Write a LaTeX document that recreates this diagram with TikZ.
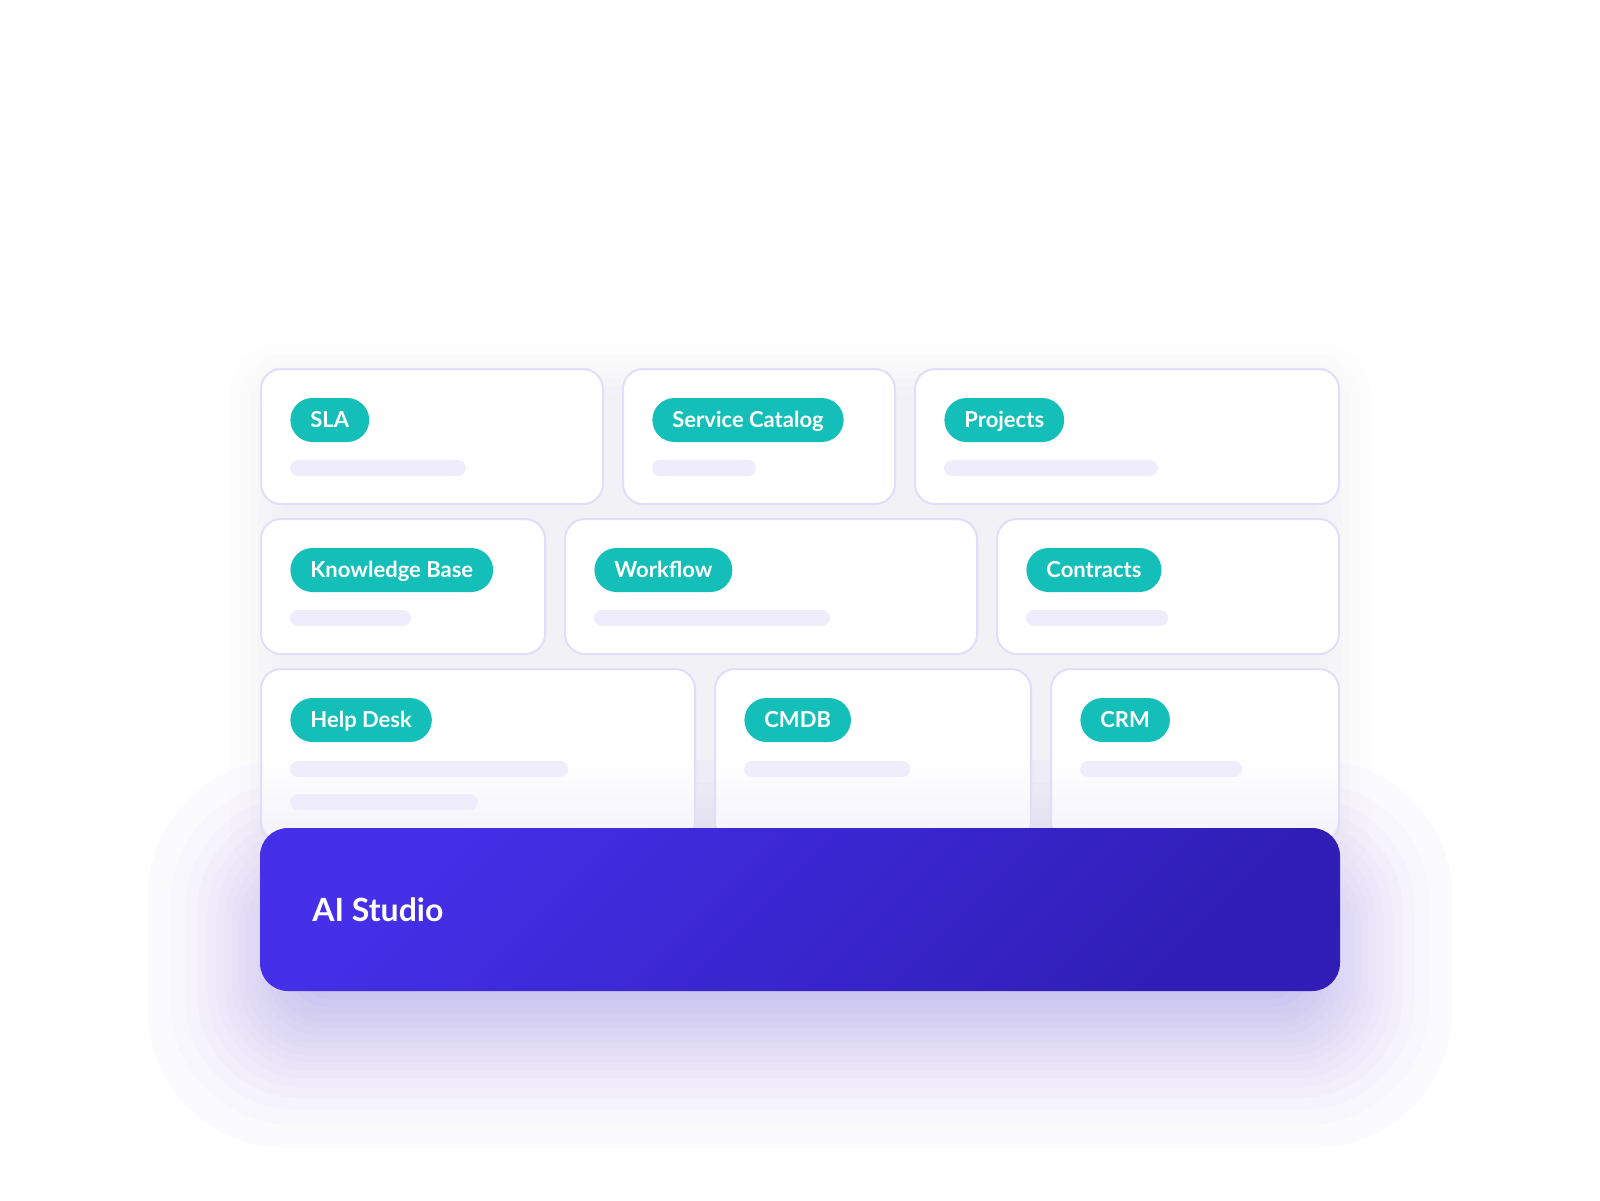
\documentclass[tikz,border=0pt]{standalone}
\usepackage{fontspec}
\setmainfont{Lato}
\definecolor{tagteal}{RGB}{19,191,184}
\definecolor{cardline}{RGB}{225,221,250}
\definecolor{barfill}{RGB}{239,237,252}
\definecolor{cardfade}{RGB}{243,242,251}
\definecolor{shadowgray}{RGB}{200,200,215}
\definecolor{glowc}{RGB}{100,80,240}
\definecolor{studioA}{RGB}{69,47,232}
\definecolor{studioB}{RGB}{48,30,182}
\begin{document}
\begin{tikzpicture}[x=0.5pt,y=-0.5pt,line cap=round,line join=round,
  card/.style={draw=cardline,line width=1pt,fill=white,rounded corners=10pt},
  fadecard/.style={card,top color=white,bottom color=cardfade,middle color=white},
  bar/.style={fill=barfill,rounded corners=4pt},
  tag/.style={anchor=west,fill=tagteal,text=white,rounded corners=11pt,
    minimum height=22pt,inner xsep=10pt,inner ysep=0pt,
    text height=7.9pt,text depth=0pt,font=\fontsize{11}{13}\selectfont\bfseries}]

\useasboundingbox (0,0) rectangle (1600,1200);
\fill[white] (0,0) rectangle (1600,1200);

\foreach \z [evaluate=\z as \d using 20*\z, evaluate=\z as \r using 10+0.3*(20*\z+22)]
    in {-1.07,-0.57,-0.18,0.18,0.57,1.07,1.6}
  \fill[shadowgray,opacity=0.028,rounded corners=\r pt] ({261-\d},{375-\d}) rectangle ({1339+\d},{848+\d});
\foreach \z [evaluate=\z as \d using 65*\z, evaluate=\z as \r using 14+0.35*(65*\z+44)]
    in {-0.67,-0.55,-0.43,-0.32,-0.21,-0.11,0,0.11,0.21,0.32,0.43,0.55,0.67,0.81,0.97,1.15,1.38,1.73}
  \fill[glowc,opacity=0.018,rounded corners=\r pt] ({260-\d},{872-\d}) rectangle ({1340+\d},{1035+\d});

\draw[card] (261,369) rectangle (603,504);
\draw[card] (623,369) rectangle (895,504);
\draw[card] (915,369) rectangle (1339,504);
\draw[card] (261,519) rectangle (545,654);
\draw[card] (565,519) rectangle (977,654);
\draw[card] (997,519) rectangle (1339,654);
\draw[fadecard] (261,669) rectangle (695,842);
\draw[fadecard] (715,669) rectangle (1031,842);
\draw[fadecard] (1051,669) rectangle (1339,842);

\node[tag] (sla) at (290,420) {SLA};
\node[tag] (catalog) at (652,420) {Service Catalog};
\node[tag] (projects) at (944,420) {Projects};
\node[tag] (kb) at (290,570) {Knowledge Base};
\node[tag] (workflow) at (594,570) {Workflow};
\node[tag] (contracts) at (1026,570) {Contracts};
\node[tag] (helpdesk) at (290,720) {Help Desk};
\node[tag] (cmdb) at (744,720) {CMDB};
\node[tag] (crm) at (1080,720) {CRM};

\fill[bar] (290,460) rectangle (466,476);
\fill[bar] (652,460) rectangle (756,476);
\fill[bar] (944,460) rectangle (1158,476);
\fill[bar] (290,610) rectangle (411,626);
\fill[bar] (594,610) rectangle (830,626);
\fill[bar] (1026,610) rectangle (1168,626);
\fill[bar] (290,761) rectangle (568,777);
\fill[bar] (290,794) rectangle (478,810);
\fill[bar] (744,761) rectangle (910,777);
\fill[bar] (1080,761) rectangle (1242,777);

\shade[rounded corners=14pt,top color=studioA,bottom color=studioB,shading angle=45] (260,828) rectangle (1340,991);
\node[anchor=base west,text=white,inner sep=0pt,font=\fontsize{16}{19}\selectfont\bfseries] (studio) at (312,921.7) {AI Studio};
\end{tikzpicture}
\end{document}
